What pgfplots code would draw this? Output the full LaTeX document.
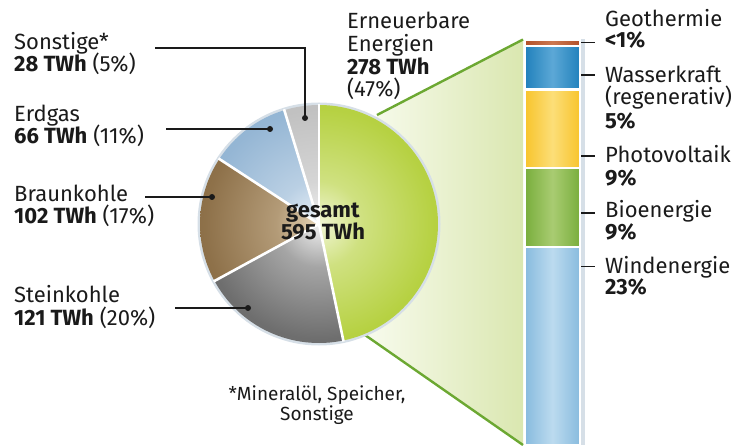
\documentclass[border=0pt]{standalone}
\usepackage{fontspec}
\setmainfont{Fira Sans}
\usepackage{pgfplots}
\usepackage{pgfplotstable}
\pgfplotsset{compat=1.18}

\definecolor{txt}{HTML}{1A1A1A}
\definecolor{linegreen}{HTML}{6CA832}
\definecolor{fanleft}{HTML}{F8FBEE}
\definecolor{fanright}{HTML}{DAE7B0}
\definecolor{halo}{HTML}{D6DFE7}
% pie: centre / rim
\definecolor{eeIn}{HTML}{F1F6D4}\definecolor{eeOut}{HTML}{A6C71A}
\definecolor{skIn}{HTML}{F0F0F0}\definecolor{skOut}{HTML}{4A4A4A}
\definecolor{bkIn}{HTML}{E6D4B6}\definecolor{bkOut}{HTML}{75552B}
\definecolor{egIn}{HTML}{EDF3F9}\definecolor{egOut}{HTML}{7CA5CA}
\definecolor{soIn}{HTML}{F0F0F0}\definecolor{soOut}{HTML}{B4B4B4}
% bar: side / middle
\definecolor{windS}{HTML}{88BBDE}\definecolor{windM}{HTML}{BCDBEF}
\definecolor{bioS}{HTML}{79AE3C}\definecolor{bioM}{HTML}{A9CC72}
\definecolor{pvS}{HTML}{F8C42C}\definecolor{pvM}{HTML}{FCDE78}
\definecolor{hydS}{HTML}{2181BC}\definecolor{hydM}{HTML}{5CA8D6}
\definecolor{geoS}{HTML}{B2512A}\definecolor{geoM}{HTML}{CC7850}

% radial shading: light only near the centre, rim colour over most of the slice
\makeatletter
\pgfdeclareradialshading[tikz@radial@inner,tikz@radial@outer]{pieradial}{\pgfpointorigin}%
  {color(0bp)=(tikz@radial@inner);
   color(9bp)=(tikz@radial@inner!55!tikz@radial@outer);
   color(24bp)=(tikz@radial@inner!22!tikz@radial@outer);
   color(50bp)=(tikz@radial@outer);color(100bp)=(tikz@radial@outer)}
\makeatother

% Stromerzeugung, TWh
\pgfplotstableread{
source value
Erneuerbare 278
Steinkohle 121
Braunkohle 102
Erdgas 66
Sonstige 28
}\piedata

\pgfplotstablegetelem{0}{value}\of\piedata \let\vA\pgfplotsretval
\pgfplotstablegetelem{1}{value}\of\piedata \let\vB\pgfplotsretval
\pgfplotstablegetelem{2}{value}\of\piedata \let\vC\pgfplotsretval
\pgfplotstablegetelem{3}{value}\of\piedata \let\vD\pgfplotsretval
\pgfplotstablegetelem{4}{value}\of\piedata \let\vE\pgfplotsretval
\pgfmathsetmacro\tot{\vA+\vB+\vC+\vD+\vE}
\pgfmathsetmacro\aA{90}
\pgfmathsetmacro\aB{\aA-360*(\vA/\tot)}
\pgfmathsetmacro\aC{\aB-360*(\vB/\tot)}
\pgfmathsetmacro\aD{\aC-360*(\vC/\tot)}
\pgfmathsetmacro\aE{\aD-360*(\vD/\tot)}
\pgfmathsetmacro\aF{\aE-360*(\vE/\tot)}

\newcommand{\slice}[4]{%
  \begin{scope}
    \clip (0,0) -- ({119*cos(#1)},{119*sin(#1)})
      arc[start angle=#1, end angle=#2, radius=119pt] -- cycle;
    \shade[inner color=#3, outer color=#4, shading=pieradial]
      (0,0) circle[radius=119pt];
  \end{scope}}

\begin{document}
\fontsize{22}{22}\selectfont
\begin{tikzpicture}[x=1pt,y=1pt,every node/.style={text=txt,inner sep=0pt}]
  \useasboundingbox (0,0) rectangle (736,445);

  % fan from the green slice to the bar
  \shade[left color=fanleft, right color=fanright]
    (377,330) -- (523,405.5) -- (523,0) -- (365,110) -- cycle;
  \draw[linegreen, line width=2.4pt] (377,330) -- (523,405.5);
  \draw[linegreen, line width=2.4pt] (365,110) -- (523,0);
  \fill[halo] (580,0) rectangle (585,405.5);

  % pie
  \begin{axis}[
    at={(319pt,221pt)}, anchor=center,
    scale only axis, width=238pt, height=238pt,
    xmin=-119, xmax=119, ymin=-119, ymax=119,
    hide axis, clip=false,
  ]
    \fill[halo] (0,0) circle[radius=121.5pt];
    \slice{\aA}{\aB}{eeIn}{eeOut}
    \slice{\aB}{\aC}{skIn}{skOut}
    \slice{\aC}{\aD}{bkIn}{bkOut}
    \slice{\aD}{\aE}{egIn}{egOut}
    \slice{\aE}{\aF}{soIn}{soOut}
    \foreach \a in {\aA,\aB,\aC,\aD,\aE}{
      \edef\tmp{\noexpand\draw[white, line width=2.6pt] (0,0) -- ({120*cos(\a)},{120*sin(\a)});}\tmp
    }
    % leaders
    \draw[txt, line width=1.2pt] (-14,106) -- (-14,176) -- (-164,176);
    \draw[txt, line width=1.2pt] (-49,95) -- (-153,95);
    \draw[txt, line width=1.2pt] (-107,27) -- (-174,27);
    \draw[txt, line width=1.2pt] (-71,-84) -- (-144,-84);
    \fill[txt] (-14,106) circle[radius=3pt];
    \fill[txt] (-49,95) circle[radius=3pt];
    \fill[txt] (-107,27) circle[radius=3pt];
    \fill[txt] (-71,-84) circle[radius=3pt];
  \end{axis}

  % stacked bar of the renewables (percent of total)
  \begin{axis}[
    at={(525pt,0pt)}, anchor=south west,
    scale only axis, width=55pt, height=405.5pt,
    xmin=-0.5, xmax=0.5, ymin=0, ymax=46.3,
    hide axis, clip=false,
    ybar stacked, bar width=55pt,
    every axis plot/.append style={draw=white, line width=2.2pt},
  ]
    \addplot[left color=windS, right color=windS, middle color=windM]
      coordinates {(0,22.6)};
    \addplot[left color=bioS, right color=bioS, middle color=bioM]
      coordinates {(0,9)};
    \addplot[left color=pvS, right color=pvS, middle color=pvM]
      coordinates {(0,9)};
    \addplot[left color=hydS, right color=hydS, middle color=hydM]
      coordinates {(0,5)};
    \addplot[left color=geoS, right color=geoS, middle color=geoM]
      coordinates {(0,0.7)};
    \foreach \yy in {45.95,42.25,33.0,26.5,20.36}{
      \edef\tmp{\noexpand\draw[txt, line width=1.2pt] (0.28,\yy) -- (0.77,\yy);
        \noexpand\fill[txt] (0.28,\yy) circle[radius=3pt];}\tmp
    }
  \end{axis}

  % left labels
  \node[anchor=base west] at (14,395) {Sonstige*};
  \node[anchor=base west] at (14,373) {\textbf{28 TWh} (5\%)};
  \node[anchor=base west] at (14,323) {Erdgas};
  \node[anchor=base west] at (14,301) {\textbf{66 TWh} (11\%)};
  \node[anchor=base west] at (14,243) {Braunkohle};
  \node[anchor=base west] at (14,221) {\textbf{102 TWh} (17\%)};
  \node[anchor=base west] at (14,143) {Steinkohle};
  \node[anchor=base west] at (14,120) {\textbf{121 TWh} (20\%)};

  % renewables label
  \node[anchor=base west] at (347,416) {Erneuerbare};
  \node[anchor=base west] at (347,393) {Energien};
  \node[anchor=base west] at (347,370) {\textbf{278 TWh}};
  \node[anchor=base west] at (347,348) {(47\%)};

  % centre
  \node[anchor=base] at (323,227) {\textbf{gesamt}};
  \node[anchor=base] at (323,205) {\textbf{595 TWh}};

  % bar labels
  \node[anchor=base west] at (605,418) {Geothermie};
  \node[anchor=base west] at (605,397) {\textbf{<1\%}};
  \node[anchor=base west] at (605,362) {Wasserkraft};
  \node[anchor=base west] at (605,340) {(regenerativ)};
  \node[anchor=base west] at (605,316) {\textbf{5\%}};
  \node[anchor=base west] at (605,282) {Photovoltaik};
  \node[anchor=base west] at (605,259) {\textbf{9\%}};
  \node[anchor=base west] at (605,227) {Bioenergie};
  \node[anchor=base west] at (605,205) {\textbf{9\%}};
  \node[anchor=base west] at (605,172) {Windenergie};
  \node[anchor=base west] at (605,151) {\textbf{23\%}};

  % footnote
  \node[anchor=base, font=\fontsize{19}{19}\selectfont] at (317,45) {*Mineralöl, Speicher,};
  \node[anchor=base, font=\fontsize{19}{19}\selectfont] at (317,25) {Sonstige};
\end{tikzpicture}
\end{document}
